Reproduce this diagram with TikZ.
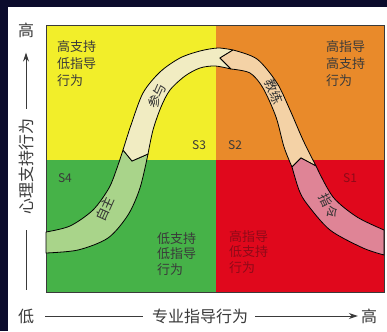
\documentclass[tikz,border=0pt]{standalone}
\usepackage{fontspec}
\setmainfont{Noto Sans CJK SC}
\usetikzlibrary{arrows.meta}

\definecolor{navy}{HTML}{0B0B2C}
\definecolor{qyellow}{HTML}{F2EE2A}
\definecolor{qorange}{HTML}{E98A2A}
\definecolor{qgreen}{HTML}{46B248}
\definecolor{qred}{HTML}{E0081C}
\definecolor{bgreen}{HTML}{A9D48A}
\definecolor{bcream}{HTML}{F1ECC2}
\definecolor{bpeach}{HTML}{F4D2A6}
\definecolor{bpink}{HTML}{DF8496}
\definecolor{ink}{HTML}{3A3A3A}
\definecolor{darkred}{HTML}{8E0A18}

\tikzset{
  axislabel/.style={inner sep=0pt, text=ink, font=\fontsize{16}{16}\selectfont},
  axisline/.style={ink, line width=0.9pt},
  quadtext/.style={anchor=north west, align=left, inner sep=0pt, text=ink},
  stage/.style={inner sep=0pt, text=ink, font=\fontsize{12}{12}\selectfont},
  band/.style={draw=black, line width=0.8pt, line join=round},
  bandtext/.style={inner sep=0pt, text=black!80, font=\fontsize{13}{13}\selectfont},
}

\begin{document}
\begin{tikzpicture}[x=1pt, y=-1pt]
    \useasboundingbox (0,0) rectangle (387,331);
    \fill[navy] (0,0) rectangle (387,331);
    \fill[white] (8,7) rectangle (387,331);

    % four quadrants
    \fill[qyellow] (46,25) rectangle (216,160);
    \fill[qorange] (216,25) rectangle (384,160);
    \fill[qgreen] (46,160) rectangle (216,292);
    \fill[qred] (216,160) rectangle (384,292);
    \draw[ink, line width=0.8pt] (46,25) rectangle (384,292);

    % the curved band, S4 -- S3 -- S2 -- S1
    \filldraw[band, fill=bgreen] plot[smooth] coordinates {(46,232) (70,226) (93,210) (109,188) (117,168) (123,150)}
        -- (132,161) -- plot[smooth] coordinates {(148,154) (140,188) (128,215) (108,238) (78,250) (46,253)} -- cycle;
    \filldraw[band, fill=bcream] plot[smooth] coordinates {(123,150) (131,125) (143,93) (160,72) (180,58) (200,51) (218,48) (233,50)}
        -- (220,58) -- plot[smooth] coordinates {(231,69) (215,66) (200,68) (185,76) (170,90) (161,107) (153,130) (148,154)} -- (132,161) -- cycle;
    \filldraw[band, fill=bpeach] plot[smooth] coordinates {(233,50) (257,59) (277,83) (290,110) (303,140) (316,166)}
        -- (301,158) -- plot[smooth] coordinates {(292,167) (284,147) (276,117) (263,88) (250,73) (231,69)} -- (220,58) -- cycle;
    \filldraw[band, fill=bpink] plot[smooth] coordinates {(316,166) (333,197) (357,217) (384,230)}
        -- (384,255) -- plot[smooth] coordinates {(384,255) (363,248) (330,230) (307,204) (299,190) (292,167)} -- (301,158) -- cycle;

    \node[bandtext, rotate=66] (zizhu) at (105,209) {自主};
    \node[bandtext, rotate=66] (canyu) at (157,96) {参与};
    \node[bandtext, rotate=-68] (jiaolian) at (274,92) {教练};
    \node[bandtext, rotate=-64] (zhiling) at (329,206) {指令};

    % stages
    \node[stage] (s4) at (65,178) {S4};
    \node[stage] (s3) at (199,145) {S3};
    \node[stage] (s2) at (235,145) {S2};
    \node[stage, text=darkred] (s1) at (350,178) {S1};

    \node[quadtext, font=\fontsize{13}{17}\selectfont] (tl) at (57,40) {高支持\\低指导\\行为};
    \node[quadtext, font=\fontsize{13}{17}\selectfont] (tr) at (326,40) {高指导\\高支持\\行为};
    \node[quadtext, font=\fontsize{13}{15.5}\selectfont] (bl) at (157,232) {低支持\\低指导\\行为};
    \node[quadtext, font=\fontsize{13}{15.5}\selectfont, text=darkred] (br) at (229,230) {高指导\\低支持\\行为};

    % axes
    \node[axislabel] (low) at (26,316) {低};
    \node[axislabel] (vhigh) at (26,30) {高};
    \node[axislabel, rotate=90] (vtext) at (26,166) {心理支持行为};
    \node[axislabel] (htext) at (200,316) {专业指导行为};
    \node[axislabel] (hhigh) at (369,316) {高};

    \draw[axisline, -{Stealth[length=9pt, width=6pt]}, shorten <=9pt, shorten >=15pt] (vtext.east) -- (vhigh.south);
    \draw[axisline, shorten <=16pt, shorten >=18pt] (vtext.west) -- (low.north);
    \draw[axisline, shorten <=11pt, shorten >=9pt] (low.east) -- (htext.west);
    \draw[axisline, -{Stealth[length=9pt, width=6pt]}, shorten <=7pt, shorten >=3pt] (htext.east) -- (hhigh.west);
\end{tikzpicture}
\end{document}
